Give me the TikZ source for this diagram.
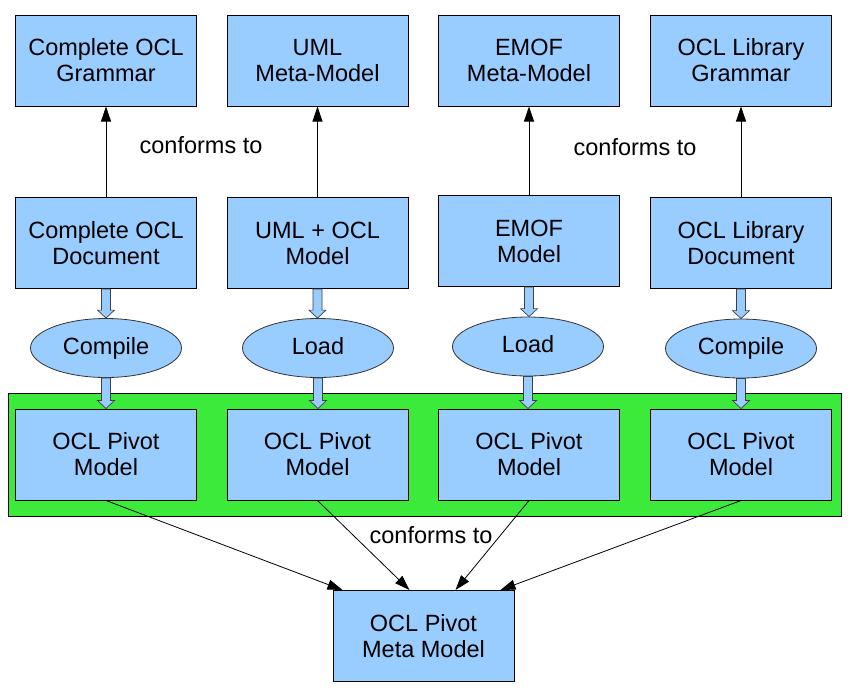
\documentclass[tikz,border=0pt]{standalone}
\usepackage{fontspec}
\setmainfont{Liberation Sans}
\usetikzlibrary{shapes.geometric,arrows.meta,calc}
\definecolor{boxblue}{HTML}{99CCFF}
\definecolor{grn}{HTML}{3CEA3C}
\tikzset{
  box/.style={draw=black, line width=1pt, fill=boxblue, minimum width=181pt, minimum height=91pt, inner sep=0pt, align=center, font=\fontsize{23.5}{26}\selectfont},
  oval/.style={ellipse, draw=black!80, line width=0.8pt, fill=boxblue, minimum width=151pt, minimum height=59pt, inner sep=0pt, text height=17pt, text depth=5pt, font=\fontsize{23.5}{26}\selectfont},
  conf/.style={draw=black, line width=0.8pt, -{Triangle[length=15pt,width=10pt]}},
  lbl/.style={font=\fontsize{23.5}{26}\selectfont, inner sep=0pt},
  barrow/.style={draw=black!75, line width=0.7pt, fill=boxblue}
}
\newcommand{\blockarr}[2]{%
  \path let \p1=(#1.south), \p2=(#2.north) in
    [barrow] (\x1-4.5pt,\y1) -- (\x1+4.5pt,\y1) -- (\x1+4.5pt,\y2+8pt) -- (\x1+8.5pt,\y2+8pt)
    -- (\x1,\y2) -- (\x1-8.5pt,\y2+8pt) -- (\x1-4.5pt,\y2+8pt) -- cycle;}
\begin{document}
\begin{tikzpicture}[x=1pt,y=-1pt]
\useasboundingbox (0,0) rectangle (850,699);
% green frame
\node[draw=black, line width=1pt, fill=grn, minimum width=833pt, minimum height=123pt, inner sep=0pt] (frame) at (424.5,454.5) {};
% top row
\node[box] (g1) at (106,60.5) {Complete OCL\\Grammar};
\node[box] (g2) at (317.5,60.5) {UML\\Meta-Model};
\node[box] (g3) at (529,60.5) {EMOF\\Meta-Model};
\node[box] (g4) at (741,60.5) {OCL Library\\Grammar};
% second row
\node[box] (d1) at (106,243) {Complete OCL\\Document};
\node[box] (d2) at (317.5,243) {UML + OCL\\Model};
\node[box] (d3) at (529,241) {EMOF\\Model};
\node[box] (d4) at (741,243) {OCL Library\\Document};
% ellipses
\node[oval] (e1) at (106,348) {Compile};
\node[oval] (e2) at (318,348) {Load};
\node[oval] (e3) at (528,346.5) {Load};
\node[oval] (e4) at (741,348.5) {Compile};
% pivot models
\node[box] (p1) at (106,454.5) {OCL Pivot\\Model};
\node[box] (p2) at (317.5,454.5) {OCL Pivot\\Model};
\node[box] (p3) at (529,454.5) {OCL Pivot\\Model};
\node[box] (p4) at (741,454.5) {OCL Pivot\\Model};
% meta model
\node[box] (mm) at (423.5,636) {OCL Pivot\\Meta Model};
% labels
\node[lbl] (c1) at (201,145) {conforms to};
\node[lbl] (c2) at (635,147) {conforms to};
\node[lbl] (c3) at (431,535) {conforms to};
% conforms arrows up
\draw[conf] (d1) -- (g1);
\draw[conf] (d2) -- (g2);
\draw[conf] (d3) -- (g3);
\draw[conf] (d4) -- (g4);
% block arrows
\blockarr{d1}{e1}
\blockarr{d2}{e2}
\blockarr{d3}{e3}
\blockarr{d4}{e4}
\blockarr{e1}{p1}
\blockarr{e2}{p2}
\blockarr{e3}{p3}
\blockarr{e4}{p4}
% arrows to meta model
\coordinate (t1) at ($(mm.north west)+(10,0)$);
\coordinate (t2) at ($(mm.north west)+(77,0)$);
\coordinate (t3) at ($(mm.north west)+(123,0)$);
\coordinate (t4) at ($(mm.north west)+(168,0)$);
\draw[conf] (p1.south) -- (t1);
\draw[conf] (p2.south) -- (t2);
\draw[conf] (p3.south) -- (t3);
\draw[conf] (p4.south) -- (t4);
\end{tikzpicture}
\end{document}
